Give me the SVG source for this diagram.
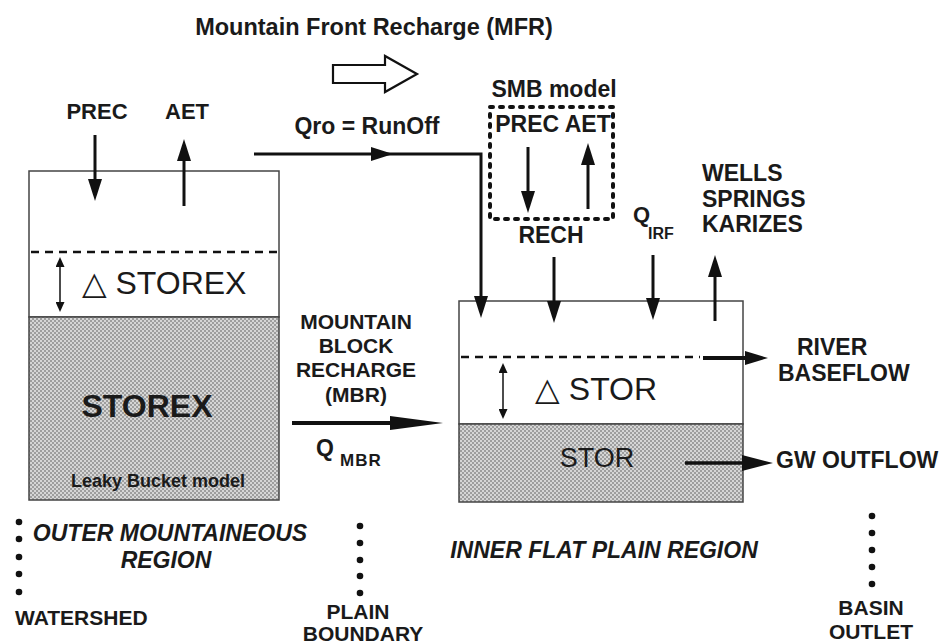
<svg xmlns="http://www.w3.org/2000/svg" width="950" height="644" viewBox="0 0 950 644">
<defs>
<pattern id="chk" width="4" height="4" patternUnits="userSpaceOnUse">
<rect width="4" height="4" fill="#9e9e9e"/>
<rect x="0" y="0" width="2" height="2" fill="#d6d6d6"/>
<rect x="2" y="2" width="2" height="2" fill="#d6d6d6"/>
</pattern>
<marker id="ah" markerUnits="userSpaceOnUse" markerWidth="22" markerHeight="14" refX="12" refY="7" orient="auto" viewBox="0 0 22 14">
<path d="M0,0 L22,7 L0,14 Z" fill="#111"/>
</marker>
<marker id="sm" markerUnits="userSpaceOnUse" markerWidth="10" markerHeight="9" refX="7" refY="4.5" orient="auto" viewBox="0 0 10 9">
<path d="M0,0 L10,4.5 L0,9 Z" fill="#111"/>
</marker>
<marker id="smr" markerUnits="userSpaceOnUse" markerWidth="10" markerHeight="9" refX="3" refY="4.5" orient="auto" viewBox="0 0 10 9">
<path d="M10,0 L0,4.5 L10,9 Z" fill="#111"/>
</marker>
</defs>
<style>
text{font-family:"Liberation Sans",Arial,sans-serif;fill:#1a1a1a;font-weight:bold}
.reg{font-weight:normal}
.it{font-style:italic}
.box{fill:#fff;stroke:#444;stroke-width:1.5}
.gray{fill:url(#chk);stroke:#444;stroke-width:1.5}
.ar{stroke:#111;stroke-width:3;fill:none;marker-end:url(#ah)}
.dash{stroke:#111;stroke-width:2.5;stroke-dasharray:8 6;fill:none}
.dbl{stroke:#111;stroke-width:1.5;fill:none;marker-end:url(#sm);marker-start:url(#smr)}
.dot{fill:#111}
</style>
<rect width="950" height="644" fill="#fff"/>

<text x="374" y="35" text-anchor="middle" font-size="23.5">Mountain Front Recharge (MFR)</text>
<path d="M333,65 L385,65 L385,56 L417,74 L385,92 L385,83 L333,83 Z" fill="#fff" stroke="#111" stroke-width="2.2"/>

<g id="outer-bucket">
<rect class="box" x="29" y="171" width="250" height="146"/>
<rect class="gray" x="29" y="317" width="250" height="183"/>
<line class="dash" x1="31" y1="252" x2="278" y2="252"/>
<line class="dbl" x1="60" y1="260" x2="60" y2="309"/>
<text x="164" y="294" text-anchor="middle" font-size="32" class="reg">△ STOREX</text>
<text x="147" y="417" text-anchor="middle" font-size="32">STOREX</text>
<text x="158" y="487" text-anchor="middle" font-size="18">Leaky Bucket model</text>
</g>

<g id="outer-fluxes">
<text x="97" y="119" text-anchor="middle" font-size="22">PREC</text>
<text x="187" y="119" text-anchor="middle" font-size="22">AET</text>
</g>

<g id="inner-bucket">
<rect class="box" x="459" y="301" width="284" height="123"/>
<rect class="gray" x="459" y="424" width="284" height="78"/>
<line class="dash" x1="461" y1="357" x2="700" y2="357"/>
<line class="dbl" x1="503" y1="366" x2="503" y2="416"/>
<text x="596" y="400" text-anchor="middle" font-size="32" class="reg">△ STOR</text>
<text x="597" y="467" text-anchor="middle" font-size="27" class="reg">STOR</text>
</g>

<g id="smb-model">
<rect x="490" y="107" width="123" height="112" fill="none" stroke="#111" stroke-width="4" stroke-dasharray="3 7" stroke-linecap="round"/>
<text x="554" y="97" text-anchor="middle" font-size="23">SMB model</text>
<text x="553" y="132" text-anchor="middle" font-size="23">PREC AET</text>
</g>

<g id="labels">
<text x="367" y="134" text-anchor="middle" font-size="23">Qro = RunOff</text>
<text x="551" y="243" text-anchor="middle" font-size="23">RECH</text>
<text x="633" y="222" font-size="22">Q</text>
<text x="648" y="239" font-size="16">IRF</text>
<text x="702" y="181" font-size="23">WELLS</text>
<text x="702" y="207" font-size="23">SPRINGS</text>
<text x="702" y="232" font-size="23">KARIZES</text>
<text x="356" y="329" text-anchor="middle" font-size="21">MOUNTAIN</text>
<text x="356" y="353" text-anchor="middle" font-size="21">BLOCK</text>
<text x="356" y="377" text-anchor="middle" font-size="21">RECHARGE</text>
<text x="356" y="402" text-anchor="middle" font-size="21">(MBR)</text>
<text x="316" y="456" font-size="23">Q</text>
<text x="340" y="466" font-size="17" letter-spacing="1">MBR</text>
<text x="797" y="355" font-size="23">RIVER</text>
<text x="778" y="381" font-size="23">BASEFLOW</text>
<text x="776" y="468" font-size="23">GW OUTFLOW</text>
<text x="170" y="541" text-anchor="middle" font-size="23" class="it">OUTER MOUNTAINEOUS</text>
<text x="166" y="568" text-anchor="middle" font-size="23" class="it">REGION</text>
<text x="604" y="558" text-anchor="middle" font-size="23" class="it">INNER FLAT PLAIN REGION</text>
<text x="15" y="625" font-size="21">WATERSHED</text>
<text x="358" y="619" text-anchor="middle" font-size="21">PLAIN</text>
<text x="363" y="641" text-anchor="middle" font-size="21">BOUNDARY</text>
<text x="871" y="615" text-anchor="middle" font-size="21">BASIN</text>
<text x="871" y="639" text-anchor="middle" font-size="21">OUTLET</text>
</g>

<g id="boundaries">
<circle class="dot" cx="19" cy="522" r="3.3"/><circle class="dot" cx="19" cy="539" r="3.3"/><circle class="dot" cx="19" cy="557" r="3.3"/><circle class="dot" cx="19" cy="574" r="3.3"/><circle class="dot" cx="19" cy="592" r="3.3"/>
<circle class="dot" cx="360" cy="526" r="3.3"/><circle class="dot" cx="360" cy="543" r="3.3"/><circle class="dot" cx="360" cy="560" r="3.3"/><circle class="dot" cx="360" cy="576" r="3.3"/><circle class="dot" cx="360" cy="593" r="3.3"/>
<circle class="dot" cx="872" cy="516" r="3.3"/><circle class="dot" cx="872" cy="533" r="3.3"/><circle class="dot" cx="872" cy="550" r="3.3"/><circle class="dot" cx="872" cy="567" r="3.3"/><circle class="dot" cx="872" cy="584" r="3.3"/>
</g>

<g id="connectors">
<line class="ar" x1="95" y1="135" x2="95" y2="191"/>
<line class="ar" x1="184" y1="206" x2="184" y2="149"/>
<line x1="254" y1="154" x2="383" y2="154" stroke="#111" stroke-width="3" marker-end="url(#ah)"/>
<path d="M380,154 L481,154 L481,308" class="ar"/>
<line class="ar" x1="528" y1="147" x2="528" y2="203"/>
<line class="ar" x1="588" y1="209" x2="588" y2="153"/>
<line class="ar" x1="554" y1="257" x2="554" y2="313"/>
<line class="ar" x1="653" y1="255" x2="653" y2="310"/>
<line class="ar" x1="715" y1="321" x2="715" y2="265"/>
<line x1="292" y1="423" x2="395" y2="423" stroke="#111" stroke-width="4"/>
<path d="M390,416 L443,423 L390,430 Z" fill="#111"/>
<line x1="703" y1="358" x2="748" y2="358" stroke="#111" stroke-width="4"/>
<path d="M745,351 L768,358 L745,365 Z" fill="#111"/>
<line x1="685" y1="463" x2="746" y2="463" stroke="#111" stroke-width="3.5"/>
<path d="M742,455 L773,463 L742,471 Z" fill="#111"/>
</g>
</svg>
